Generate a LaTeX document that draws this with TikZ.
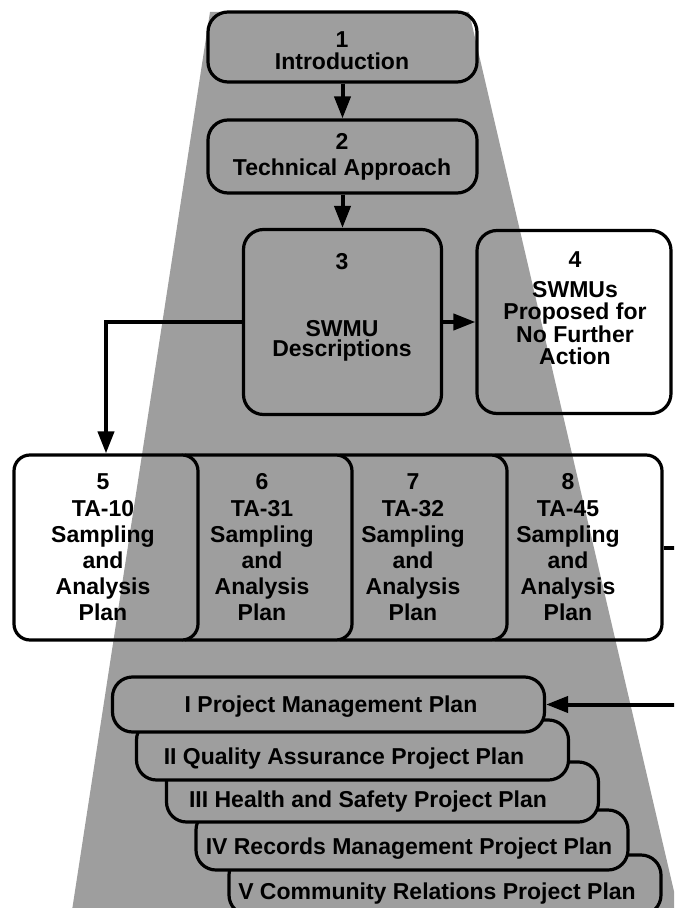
\documentclass[tikz,border=0pt]{standalone}
\usepackage{fontspec}
\setmainfont{Liberation Sans}
\usetikzlibrary{arrows.meta, positioning}

\begin{document}
\begin{tikzpicture}[
  x=0.5pt, y=-0.5pt,
  every node/.style={inner sep=0pt, align=center},
  boxtext/.style={font=\bfseries\fontsize{11.5}{#1}\selectfont},
  boxtext/.default=13.1,
  halftone/.style={fill=black!38, sharp corners},
  chapter/.style={draw, line width=1.6pt, fill=white, rounded corners=10pt,
    path picture={\fill[halftone] (sh-tl) -- (sh-tr) -- (sh-br) -- (sh-bl) -- cycle;}},
  sap/.style={chapter, rounded corners=8pt, minimum width=91pt, minimum height=92.5pt},
  plan/.style={chapter, minimum width=216pt, minimum height=30pt},
  flow/.style={draw, line width=2pt, -{Triangle[length=11pt, width=8pt]}}
]
\useasboundingbox (0,0) rectangle (674,908);
\clip (0,0) rectangle (674,908);

% shaded wedge behind everything
\coordinate (sh-tl) at (210,12);
\coordinate (sh-tr) at (469,12);
\coordinate (sh-br) at (683,930);
\coordinate (sh-bl) at (69,930);
\fill[halftone] (sh-tl) -- (sh-tr) -- (sh-br) -- (sh-bl) -- cycle;

% chapters 1-4
\node[chapter, minimum width=134.5pt, minimum height=35pt] (intro) at (342.5,47) {};
\node[boxtext=11] (intro-t) at (342,51) {1\\Introduction};
\node[chapter, minimum width=134.5pt, minimum height=36.5pt] (tech) at (342.5,156.5) {};
\node[boxtext=13] (tech-t) at (342,157) {2\\Technical Approach};
\node[chapter, minimum width=99pt, minimum height=92.5pt] (swmu) at (342.5,322) {};
\node[boxtext=10] (swmu-t) at (342,307.5) {3\\[23.5pt]SWMU\\Descriptions};
\node[chapter, minimum width=97pt, minimum height=91.5pt] (nfa) at (574,322) {};
\node[boxtext=11.25] (nfa-t) at (575,308.5) {4\\[3.5pt]SWMUs\\Proposed for\\No Further\\Action};

% sampling and analysis plans, right one first
\node[sap] (sap45) at (571,547.5) {};
\node[boxtext] (sap45-t) at (568,547.5) {8\\TA-45\\Sampling\\and\\Analysis\\Plan};
\node[sap] (sap32) at (416,547.5) {};
\node[boxtext] (sap32-t) at (413,547.5) {7\\TA-32\\Sampling\\and\\Analysis\\Plan};
\node[sap] (sap31) at (261,547.5) {};
\node[boxtext] (sap31-t) at (262,547.5) {6\\TA-31\\Sampling\\and\\Analysis\\Plan};
\node[sap, minimum width=92pt] (sap10) at (106,547.5) {};
\node[boxtext] (sap10-t) at (103,547.5) {5\\TA-10\\Sampling\\and\\Analysis\\Plan};

% project plans, bottom one first
\node[plan] (crp) at (445,885) {};
\node[boxtext] (crp-t) at (437,894) {V Community Relations Project Plan};
\node[plan] (rmp) at (412,840) {};
\node[boxtext] (rmp-t) at (409,849) {IV Records Management Project Plan};
\node[plan] (hsp) at (382.5,792) {};
\node[boxtext] (hsp-t) at (368,802) {III Health and Safety Project Plan};
\node[plan] (qapp) at (352.5,750) {};
\node[boxtext] (qapp-t) at (344,759) {II Quality Assurance Project Plan};
\node[plan, minimum height=27.5pt] (pmp) at (328.5,704.5) {};
\node[boxtext] (pmp-t) at (331,707) {I Project Management Plan};

% connectors
\draw[flow] (intro) -- (tech);
\draw[flow] (tech) -- (swmu);
\draw[flow] (swmu) -- (nfa);
\draw[flow] (swmu.west) -| (sap10.north);
\draw[flow] (sap45.east) -- ++(30,0) |- (pmp.east);
\end{tikzpicture}
\end{document}
